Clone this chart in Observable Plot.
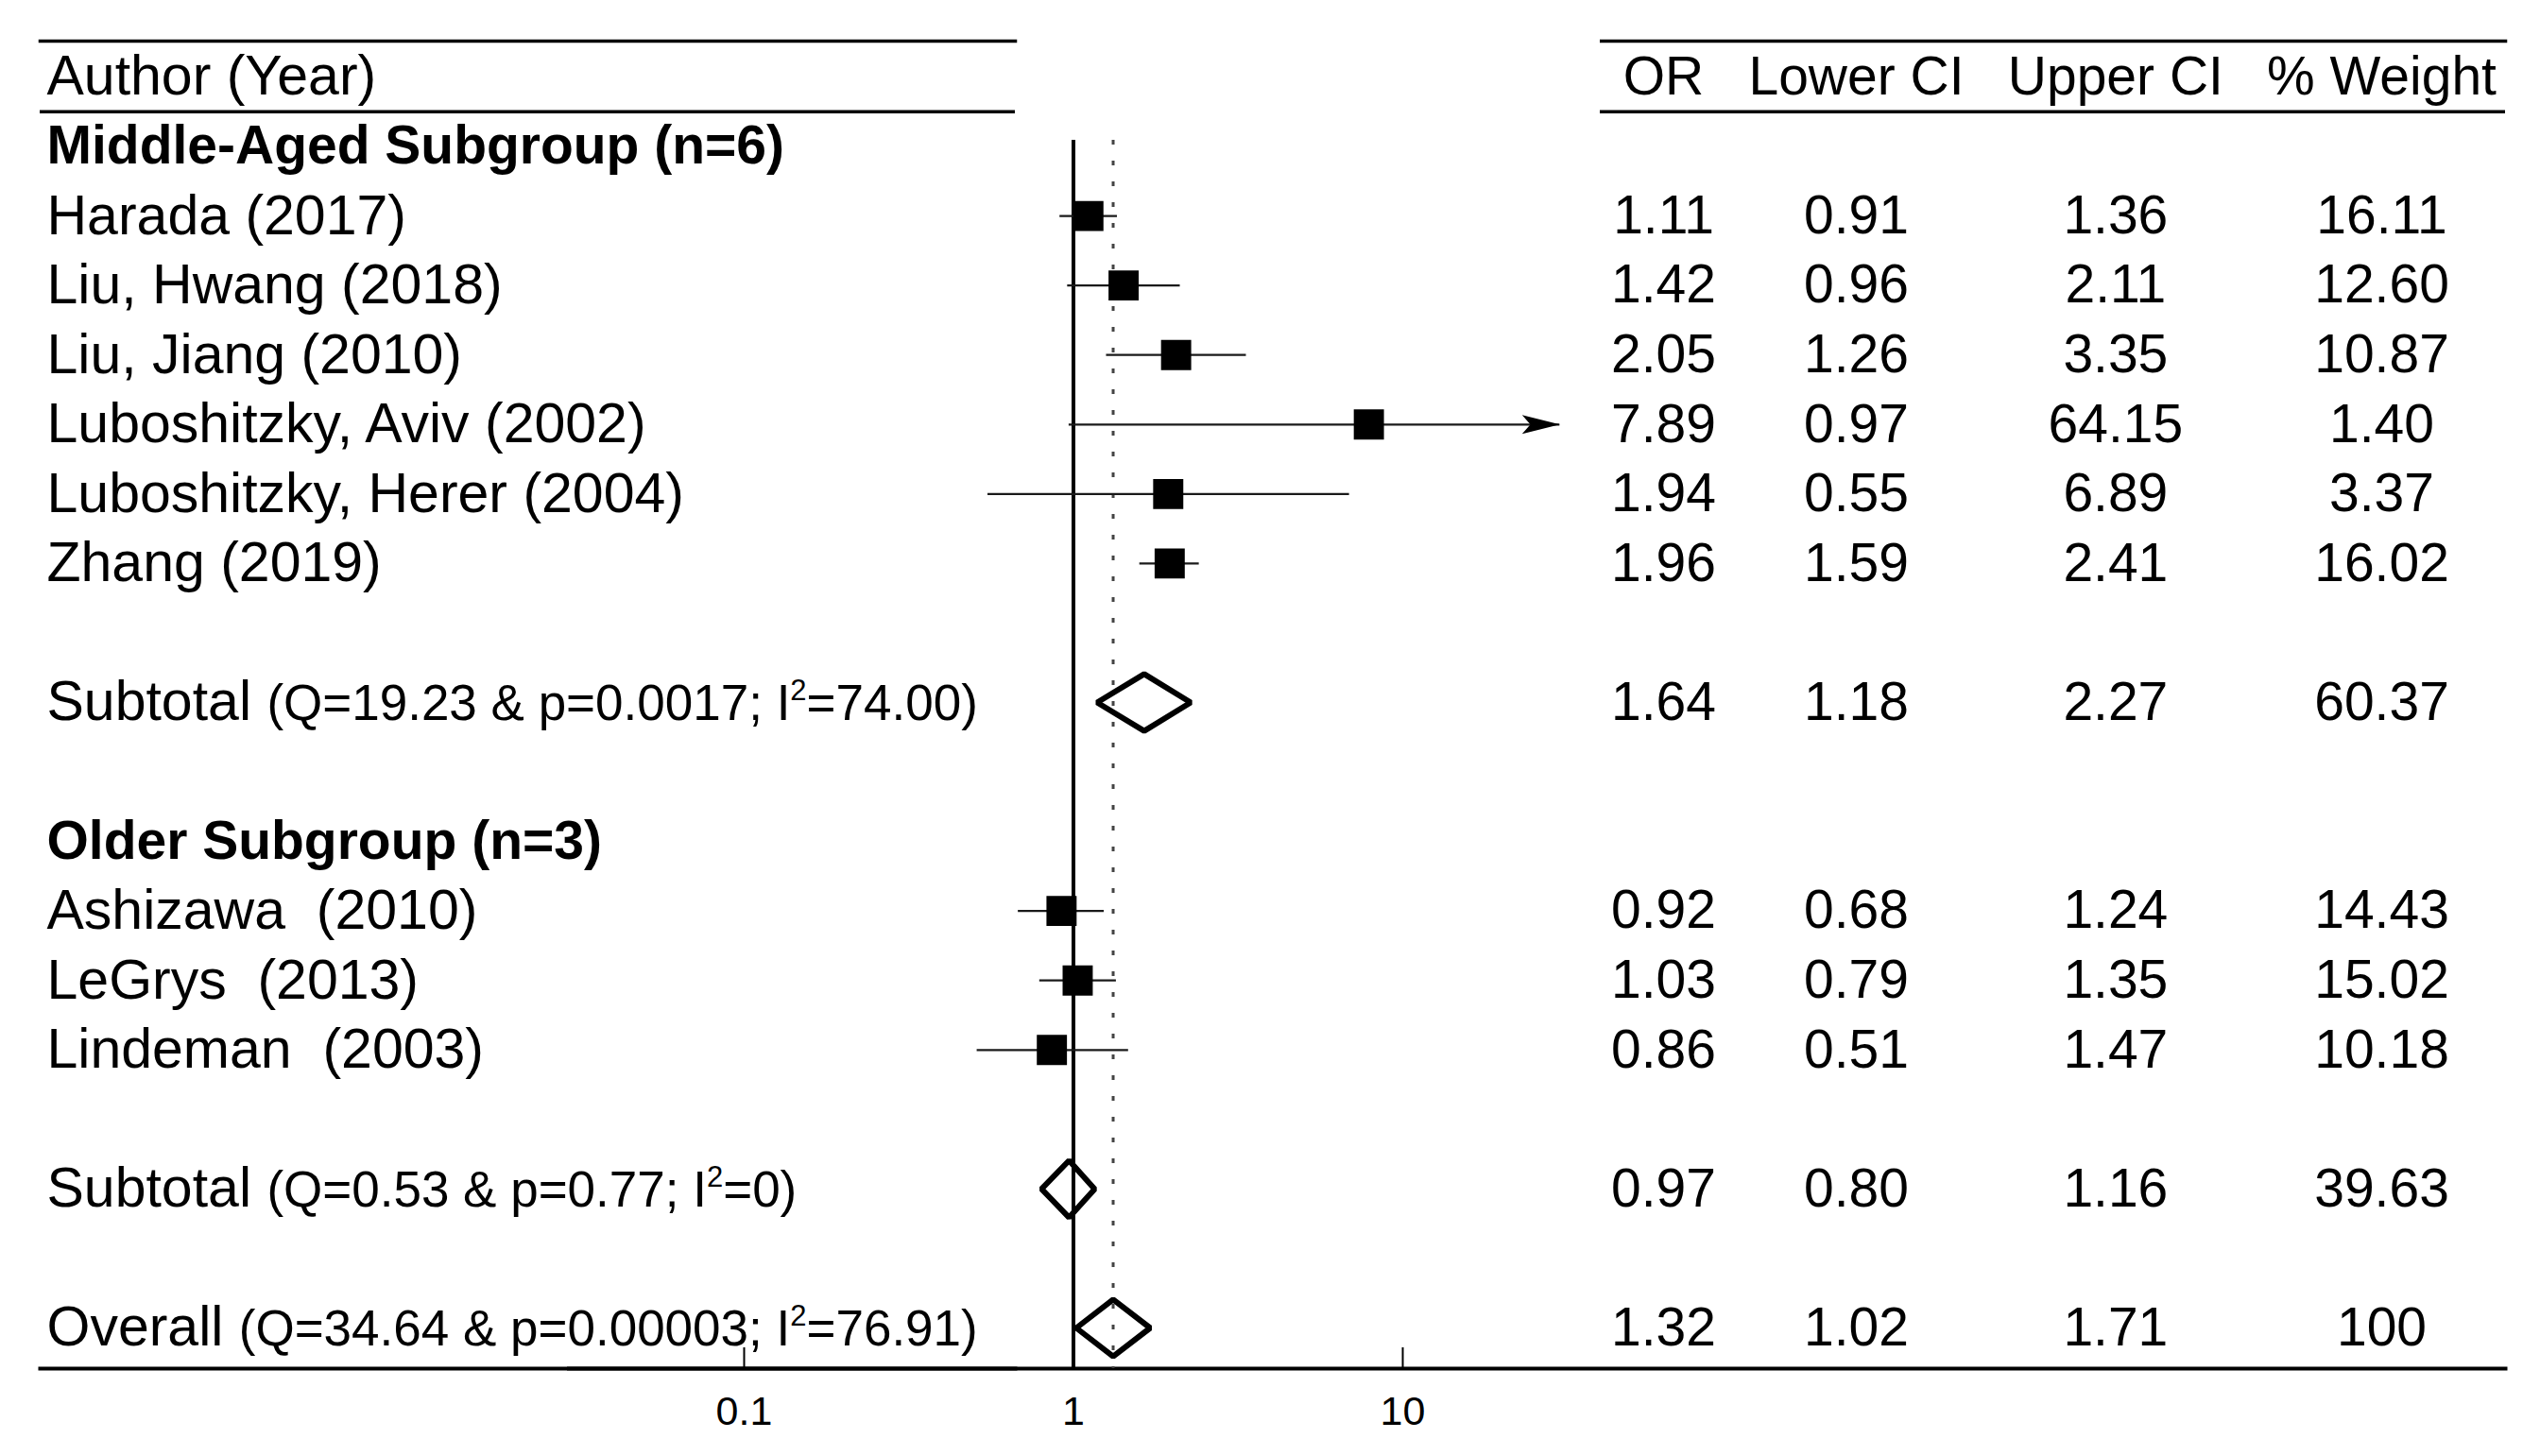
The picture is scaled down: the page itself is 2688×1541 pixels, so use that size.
<!DOCTYPE html>
<html>
<head>
<meta charset="utf-8">
<script src="https://cdn.jsdelivr.net/npm/d3@7"></script>
<script src="https://cdn.jsdelivr.net/npm/@observablehq/plot@0.6"></script>
<style>
  html, body { margin: 0; padding: 0; background: #fff; }
  #chart { position: relative; width: 2688px; height: 1541px; background: #fff; overflow: hidden; }
  #chart svg { position: absolute; top: 0; background: transparent; max-width: none; }
  #chart text { white-space: pre; }
</style>
</head>
<body>
<div id="chart"></div>
<script>
// ---------- data ----------
const groupNames   = ["Middle-Aged", "Older"];
const groupHeaders = ["Middle-Aged Subgroup (n=6)", "Older Subgroup (n=3)"];
const authors = [
  "Harada (2017)", "Liu, Hwang (2018)", "Liu, Jiang (2010)",
  "Luboshitzky, Aviv (2002)", "Luboshitzky, Herer (2004)", "Zhang (2019)",
  "Ashizawa  (2010)", "LeGrys  (2013)", "Lindeman  (2003)"
];
const studyGroup = ["Middle-Aged","Middle-Aged","Middle-Aged","Middle-Aged","Middle-Aged","Middle-Aged","Older","Older","Older"];
const orValues = [1.11, 1.42, 2.05, 7.89, 1.94, 1.96, 0.92, 1.03, 0.86];
const lowerCI  = [0.91, 0.96, 1.26, 0.97, 0.55, 1.59, 0.68, 0.79, 0.51];
const upperCI  = [1.36, 2.11, 3.35, 64.15, 6.89, 2.41, 1.24, 1.35, 1.47];
const weights  = [16.11, 12.60, 10.87, 1.40, 3.37, 16.02, 14.43, 15.02, 10.18];

const summaryLabels = ["Subtotal", "Subtotal", "Overall"];
const summaryStats  = ["(Q=19.23 & p=0.0017; I²=74.00)", "(Q=0.53 & p=0.77; I²=0)", "(Q=34.64 & p=0.00003; I²=76.91)"];
const summaryOR     = [1.64, 0.97, 1.32];
const summaryLower  = [1.18, 0.80, 1.02];
const summaryUpper  = [2.27, 1.16, 1.71];
const summaryWeight = [60.37, 39.63, 100];

const tableColumns = ["OR", "Lower CI", "Upper CI", "% Weight"];
const authorHeader = "Author (Year)";
const axisTicks = [0.1, 1, 10];
const xClip = 30;          // upper limit of the drawn axis (arrow beyond)

// ---------- row layout (order of rows in the table) ----------
const rows = [];
let idx = 0;
const add = r => { rows.push({...r, idx}); idx++; };
groupNames.forEach((g, gi) => {
  add({kind: "group", label: groupHeaders[gi]});
  authors.forEach((a, i) => {
    if (studyGroup[i] === g) add({kind: "study", label: a, or: orValues[i], lower: lowerCI[i], upper: upperCI[i], weight: weights[i]});
  });
  add({kind: "blank"});
  add({kind: "summary", label: summaryLabels[gi], stats: summaryStats[gi], or: summaryOR[gi], lower: summaryLower[gi], upper: summaryUpper[gi], weight: summaryWeight[gi]});
  add({kind: "blank"});
});
add({kind: "summary", label: summaryLabels[2], stats: summaryStats[2], or: summaryOR[2], lower: summaryLower[2], upper: summaryUpper[2], weight: summaryWeight[2]});
const headerIdx = -1;
const lastIdx = idx - 1;

const studies   = rows.filter(r => r.kind === "study");
const summaries = rows.filter(r => r.kind === "summary");
const overall   = summaries[summaries.length - 1];
const valueRows = rows.filter(r => r.kind === "study" || r.kind === "summary");

const fmt = v => Number.isInteger(v) ? String(v) : v.toFixed(2);
const cells = valueRows.flatMap(r => [
  {col: "OR", idx: r.idx, text: fmt(r.or)},
  {col: "Lower CI", idx: r.idx, text: fmt(r.lower)},
  {col: "Upper CI", idx: r.idx, text: fmt(r.upper)},
  {col: "% Weight", idx: r.idx, text: fmt(r.weight)}
]);

const diamondHalf = 0.41;
const diamondVerts = summaries.flatMap((s, k) => [
  {k, x: s.lower, y: s.idx},
  {k, x: s.or,    y: s.idx - diamondHalf},
  {k, x: s.upper, y: s.idx},
  {k, x: s.or,    y: s.idx + diamondHalf}
]);

// ---------- shared settings ----------
const FONT = "'Liberation Sans', Arial, Helvetica, sans-serif";
const H = 1541;
const yScale = {domain: [headerIdx, lastIdx], range: [81, 1405], axis: null};
const MT = 43, MB = 93;

// table column layout: columns sized by their header text, with a constant gap
const measure = (() => {
  const c = document.createElement("canvas").getContext("2d");
  c.font = `57px ${FONT}`;
  return s => c.measureText(s).width;
})();
const colGap = 50;
const colCenter = new Map();
{
  let pos = 0;
  for (const c of tableColumns) {
    const w = measure(c);
    colCenter.set(c, pos + w / 2);
    pos += w + colGap;
  }
}
const colExtent = d3.extent([...colCenter.values()]);

const stealth = {
  draw(ctx, size) {
    const s = Math.sqrt(size / Math.PI);
    ctx.moveTo(0, 0);
    ctx.lineTo(-s, -0.25 * s);
    ctx.lineTo(-0.78 * s, 0);
    ctx.lineTo(-s, 0.25 * s);
    ctx.closePath();
  }
};

const chart = document.getElementById("chart");

// ---------- left: labels ----------
const left = Plot.plot({
  width: 1100, height: H,
  marginTop: MT, marginBottom: MB, marginLeft: 42, marginRight: 26,
  style: {fontFamily: FONT, background: "transparent"},
  y: yScale,
  marks: [
    Plot.frame({anchor: "top", strokeWidth: 3.5}),
    Plot.ruleY([headerIdx + 0.5], {strokeWidth: 3.5}),
    Plot.frame({anchor: "bottom", strokeWidth: 4}),
    Plot.text([authorHeader], {y: () => headerIdx, text: d => d, frameAnchor: "left", textAnchor: "start", dx: 7, fontSize: 59, fill: "black"}),
    Plot.text(rows.filter(r => r.kind === "group"), {y: "idx", text: "label", frameAnchor: "left", textAnchor: "start", dx: 7, fontSize: 57, fontWeight: "bold", fill: "black"}),
    Plot.text(rows.filter(r => r.kind === "study" || r.kind === "summary"), {
      y: "idx", text: d => d.stats ? `${d.label} ${d.stats}` : d.label,
      frameAnchor: "left", textAnchor: "start", dx: 7, fontSize: 59, fill: "black"
    })
  ]
});
left.style.left = "0px";
// style summary statistics: smaller font and superscript 2
left.querySelectorAll("text").forEach(t => {
  const s = t.textContent;
  const k = s.indexOf(" (Q=");
  if (k < 0) return;
  const head = s.slice(0, k), stats = s.slice(k + 1);
  t.textContent = "";
  const mk = (txt, attrs) => {
    const ts = document.createElementNS("http://www.w3.org/2000/svg", "tspan");
    ts.textContent = txt;
    for (const [a, v] of Object.entries(attrs)) ts.setAttribute(a, v);
    t.appendChild(ts);
  };
  mk(head + " ", {});
  const parts = stats.split("²");
  mk(parts[0], {"font-size": 53});
  mk("2", {"font-size": 31, dy: "-21"});
  mk(parts[1], {"font-size": 53, dy: "21"});
});
chart.appendChild(left);

// ---------- middle: forest plot ----------
const mid = Plot.plot({
  width: 1093, height: H,
  marginTop: 148, marginBottom: MB, marginLeft: 0, marginRight: 0,
  style: {fontFamily: FONT, background: "transparent"},
  x: {type: "log", domain: [0.1, 10], range: [187, 884]},
  y: yScale,
  marks: [
    Plot.frame({anchor: "bottom", strokeWidth: 4}),
    Plot.ruleX([1], {strokeWidth: 4, stroke: "black"}),
    Plot.ruleX([overall.or], {strokeWidth: 3, stroke: "#444", strokeDasharray: "5,17"}),
    Plot.ruleY(studies, {y: "idx", x1: "lower", x2: d => Math.min(d.upper, xClip), strokeWidth: 2.2, stroke: "#1a1a1a"}),
    Plot.dot(studies, {x: "or", y: "idx", symbol: "square", r: 18, fill: "black", stroke: "none"}),
    Plot.dot(studies.filter(d => d.upper > xClip), {x: () => xClip, y: "idx", symbol: stealth, r: 40, fill: "black", stroke: "none"}),
    Plot.line(diamondVerts, {x: "x", y: "y", z: "k", curve: "linear-closed", stroke: "black", strokeWidth: 6, strokeLinejoin: "miter", fill: "none"}),
    Plot.axisX({ticks: axisTicks, tickSize: -22, strokeWidth: 2, fill: "none"}),
    Plot.axisX({ticks: axisTicks, tickSize: 0, tickPadding: 29, fontSize: 43, fill: "black", tickFormat: d => `${d}`})
  ]
});
mid.style.left = "600px";
chart.appendChild(mid);

// ---------- right: value table ----------
const right = Plot.plot({
  width: 995, height: H,
  marginTop: MT, marginBottom: MB, marginLeft: 0, marginRight: 37,
  style: {fontFamily: FONT, background: "transparent"},
  x: {type: "linear", domain: colExtent, range: [67, 827], axis: null},
  y: yScale,
  marks: [
    Plot.frame({anchor: "top", strokeWidth: 3.5}),
    Plot.ruleY([headerIdx + 0.5], {strokeWidth: 3.5}),
    Plot.frame({anchor: "bottom", strokeWidth: 4}),
    Plot.text(tableColumns, {x: d => colCenter.get(d), y: () => headerIdx, text: d => d, fontSize: 57, fill: "black"}),
    Plot.text(cells, {x: d => colCenter.get(d.col), y: "idx", text: "text", fontSize: 57, fill: "black"})
  ]
});
right.style.left = "1693px";
chart.appendChild(right);
</script>
</body>
</html>
